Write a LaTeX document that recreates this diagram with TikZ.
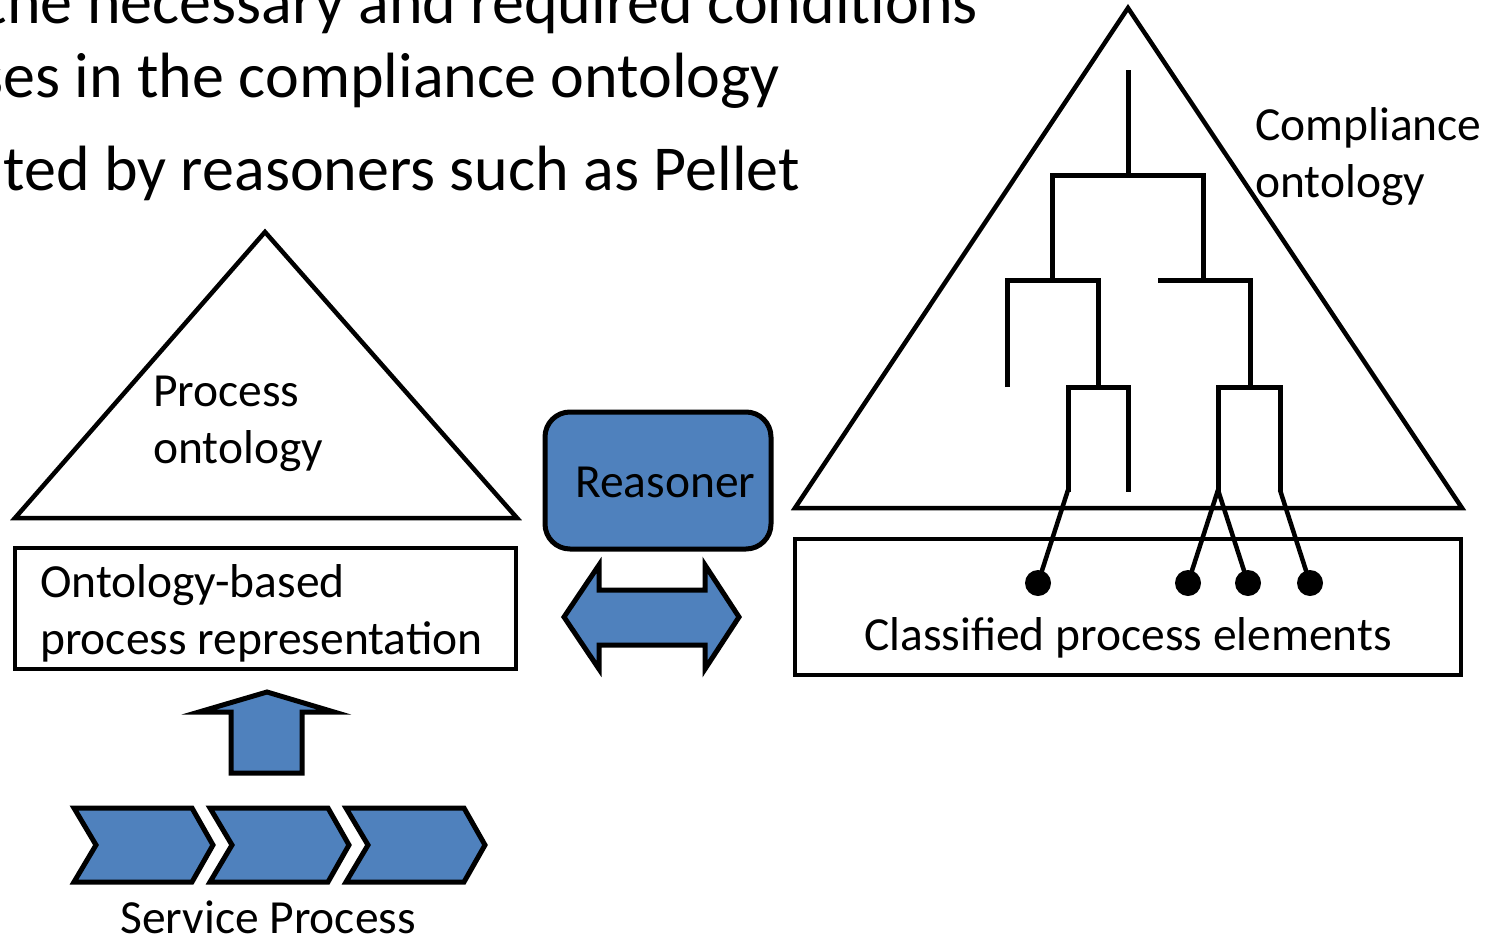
\documentclass[tikz,border=0pt]{standalone}
\usepackage{fontspec}
\setmainfont{Carlito}
\definecolor{ablue}{HTML}{4F81BD}
\begin{document}
\begin{tikzpicture}[x=1pt,y=-1pt, line join=miter,
  outl/.style={draw=black, line width=4.5pt},
  bluesh/.style={draw=black, line width=5pt, fill=ablue},
  lbl/.style={inner sep=0pt, anchor=base west, font=\fontsize{47.5}{57}\selectfont},
  big/.style={inner sep=0pt, anchor=base east, font=\fontsize{64}{77}\selectfont},
  treeln/.style={draw=black, line width=5pt},
  leafdot/.style={fill=black}]
\useasboundingbox (0,0) rectangle (1497,935);
\clip (0,0) rectangle (1497,935);
\fill[white] (0,0) rectangle (1497,935);

% clipped slide text
\node[big] (t1) at (978,23) {the necessary and required conditions};
\node[big] (t2) at (780,97) {ses in the compliance ontology};
\node[big] (t3) at (800,190) {ted by reasoners such as Pellet};

% process ontology triangle
\draw[outl] (265,232) -- (15,518) -- (517,518) -- cycle;
\node[lbl] (po1) at (153,406) {Process};
\node[lbl] (po2) at (153,463) {ontology};

% ontology-based process representation box
\draw[outl] (15,548) rectangle (516,669);
\node[lbl] (opr1) at (40,597) {Ontology-based};
\node[lbl] (opr2) at (40,654) {process representation};

% up arrow
\draw[bluesh] (231,773) -- (231,712) -- (199,712) -- (267,692) -- (334,712) -- (302,712) -- (302,773) -- cycle;

% chevrons
\foreach \i in {0,1,2}{
  \pgfmathsetmacro{\xo}{74+136*\i}
  \draw[bluesh] (\xo,808) -- ({\xo+118},808) -- ({\xo+139},845) -- ({\xo+118},882) -- (\xo,882) -- ({\xo+22},845) -- cycle;
}
\node[lbl, anchor=base] (sp) at (268,933) {Service Process};

% reasoner
\draw[bluesh, rounded corners=25pt] (545,412) rectangle (771,549);
\node[lbl] (reasoner) at (575,497) {Reasoner};

% double arrow
\draw[bluesh] (564,617) -- (599,565) -- (599,590) -- (705,590) -- (705,565) -- (739,617)
  -- (705,669) -- (705,645) -- (599,645) -- (599,669) -- cycle;

% compliance ontology triangle
\draw[outl] (1128,8) -- (795,508) -- (1462,508) -- cycle;
\node[lbl] (co1) at (1255,140) {Compliance};
\node[lbl] (co2) at (1255,197) {ontology};

% classified process elements box
\draw[outl] (795,539) rectangle (1461,675);
\node[lbl, anchor=base] (cpe) at (1128,650) {Classified process elements};

% tree
\coordinate (root) at (1128,70);
\coordinate (d1) at (1038,583);
\coordinate (d2) at (1188,583);
\coordinate (d3) at (1248,583);
\coordinate (d4) at (1310,583);
\draw[treeln] (root) -- (1128,175);
\draw[treeln] (1052,280) -- (1052,175) -- (1203,175) -- (1203,280);
\draw[treeln] (1007,387) -- (1007,280) -- (1098,280) -- (1098,387);
\draw[treeln] (1158,280) -- (1250,280) -- (1250,387);
\draw[treeln] (1068,492) -- (1068,387) -- (1128,387) -- (1128,492);
\draw[treeln] (1218,492) -- (1218,387) -- (1280,387) -- (1280,492);
\draw[treeln, line width=4.5pt] (1068,490) -- (d1);
\draw[treeln, line width=4.5pt] (1218,490) -- (d2);
\draw[treeln, line width=4.5pt] (1218,490) -- (d3);
\draw[treeln, line width=4.5pt] (1280,490) -- (d4);
\foreach \d in {d1,d2,d3,d4}{ \fill[leafdot] (\d) circle[radius=13pt]; }
\end{tikzpicture}
\end{document}
